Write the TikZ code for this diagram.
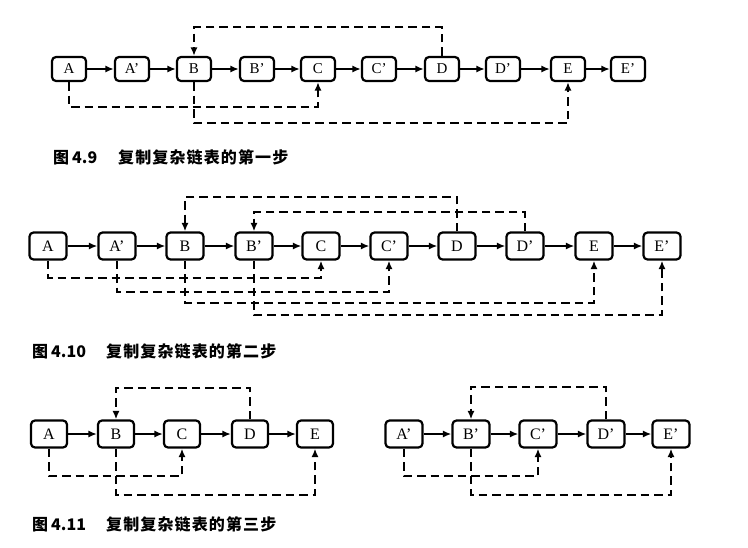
\documentclass[tikz,border=0pt]{standalone}
\usepackage{fontspec}
\setmainfont{Liberation Serif}
\newfontfamily\cjk{Noto Sans CJK SC}
\newfontfamily\cjksp[LetterSpace=7]{Noto Sans CJK SC}
\usetikzlibrary{arrows.meta}
\begin{document}
\begin{tikzpicture}[x=1pt,y=-1pt,
  box/.style={draw, line width=2.2pt, rounded corners=4pt, inner sep=0pt, minimum width=34pt, minimum height=24pt, font=\fontsize{15}{15}\selectfont},
  boxb/.style={box, minimum width=37pt, minimum height=27pt, font=\fontsize{16}{16}\selectfont},
  nxt/.style={line width=1.8pt, -{Latex[length=8.5pt,width=7pt]}},
  dsh/.style={line width=2.2pt, dash pattern=on 8.5pt off 5pt, -{Latex[length=8.5pt,width=7pt]}},
  captext/.style={anchor=west, inner sep=0pt, font=\bfseries\fontsize{16}{16}\selectfont}]
\useasboundingbox (0,0) rectangle (748,547);
\fill[white] (0,0) rectangle (748,547);

% ---------- Figure 4.9 ----------
\node[box] (A)  at (69,69)  {A};
\node[box] (A1) at (132,69) {A’};
\node[box] (B)  at (194,69) {B};
\node[box] (B1) at (257,69) {B’};
\node[box] (C)  at (318,69) {C};
\node[box] (C1) at (379,69) {C’};
\node[box] (D)  at (442,69) {D};
\node[box] (D1) at (503,69) {D’};
\node[box] (E)  at (568,69) {E};
\node[box] (E1) at (628,69) {E’};
\foreach \a/\b in {A/A1,A1/B,B/B1,B1/C,C/C1,C1/D,D/D1,D1/E,E/E1}
  \draw[nxt] (\a) -- (\b);
\draw[dsh] (D.north) |- (B.north |- 0,27) -- (B.north);
\draw[dsh] (A.south) -- (A.south |- 0,107) -| (C.south);
\draw[dsh] (B.south) -- (B.south |- 0,123) -| (E.south);
\node[captext] (cap1) at (53,157) {\makebox[65pt][l]{\cjk 图\hspace{3pt}4.9}\cjksp 复制复杂链表的第一步};

% ---------- Figure 4.10 ----------
\node[boxb] (pA)  at (48,246)  {A};
\node[boxb] (pA1) at (117,246) {A’};
\node[boxb] (pB)  at (185,246) {B};
\node[boxb] (pB1) at (254,246) {B’};
\node[boxb] (pC)  at (321,246) {C};
\node[boxb] (pC1) at (389,246) {C’};
\node[boxb] (pD)  at (457,246) {D};
\node[boxb] (pD1) at (525,246) {D’};
\node[boxb] (pE)  at (594,246) {E};
\node[boxb] (pE1) at (662,246) {E’};
\foreach \a/\b in {pA/pA1,pA1/pB,pB/pB1,pB1/pC,pC/pC1,pC1/pD,pD/pD1,pD1/pE,pE/pE1}
  \draw[nxt] (\a) -- (\b);
\draw[dsh] (pD.north) |- (pB.north |- 0,197) -- (pB.north);
\draw[dsh] (pD1.north) |- (pB1.north |- 0,212) -- (pB1.north);
\draw[dsh] (pA.south) -- (pA.south |- 0,278) -| (pC.south);
\draw[dsh] (pA1.south) -- (pA1.south |- 0,292) -| (pC1.south);
\draw[dsh] (pB.south) -- (pB.south |- 0,303) -| (pE.south);
\draw[dsh] (pB1.south) -- (pB1.south |- 0,315) -| (pE1.south);
\node[captext] (cap2) at (32,351) {\makebox[74pt][l]{\cjk 图\hspace{3pt}4.10}\cjksp 复制复杂链表的第二步};

% ---------- Figure 4.11 ----------
\node[boxb, minimum width=36pt] (qA) at (49,434)  {A};
\node[boxb, minimum width=36pt] (qB) at (116,434) {B};
\node[boxb, minimum width=36pt] (qC) at (182,434) {C};
\node[boxb, minimum width=36pt] (qD) at (250,434) {D};
\node[boxb, minimum width=36pt] (qE) at (315,434) {E};
\foreach \a/\b in {qA/qB,qB/qC,qC/qD,qD/qE}
  \draw[nxt] (\a) -- (\b);
\draw[dsh] (qD.north) |- (qB.north |- 0,388) -- (qB.north);
\draw[dsh] (qA.south) -- (qA.south |- 0,476) -| (qC.south);
\draw[dsh] (qB.south) -- (qB.south |- 0,495) -| (qE.south);

\node[boxb] (rA) at (404,434) {A’};
\node[boxb] (rB) at (471,434) {B’};
\node[boxb] (rC) at (538,434) {C’};
\node[boxb] (rD) at (606,434) {D’};
\node[boxb] (rE) at (671,434) {E’};
\foreach \a/\b in {rA/rB,rB/rC,rC/rD,rD/rE}
  \draw[nxt] (\a) -- (\b);
\draw[dsh] (rD.north) |- (rB.north |- 0,387) -- (rB.north);
\draw[dsh] (rA.south) -- (rA.south |- 0,476) -| (rC.south);
\draw[dsh] (rB.south) -- (rB.south |- 0,495) -| (rE.south);
\node[captext] (cap3) at (32,524) {\makebox[74pt][l]{\cjk 图\hspace{3pt}4.11}\cjksp 复制复杂链表的第三步};
\end{tikzpicture}
\end{document}
